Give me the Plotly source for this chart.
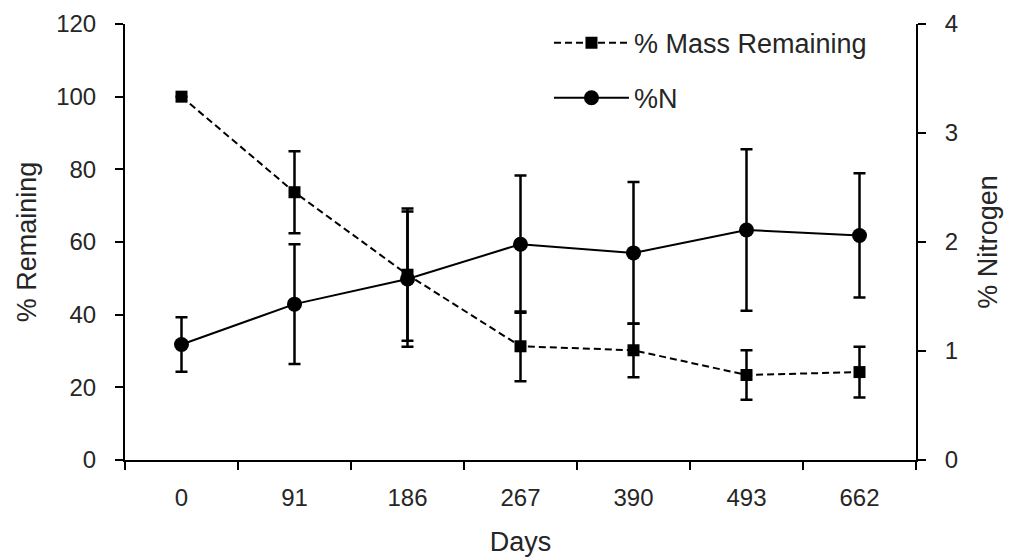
import plotly.graph_objects as go

days = ["0", "91", "186", "267", "390", "493", "662"]
mass_remaining = [100, 73.7, 51.0, 31.3, 30.2, 23.4, 24.2]
mass_err = [0, 11.3, 18.2, 9.6, 7.4, 6.8, 7.0]
nitrogen = [1.06, 1.43, 1.66, 1.98, 1.90, 2.11, 2.06]
nitrogen_err = [0.25, 0.55, 0.62, 0.63, 0.65, 0.74, 0.57]

FONT = "Liberation Sans"
TXT = "#262626"
fig = go.Figure()
fig.add_trace(go.Scatter(
    x=days, y=mass_remaining, name="% Mass Remaining", yaxis="y",
    mode="lines+markers",
    line=dict(color="black", width=2, dash="7px,4px"),
    marker=dict(symbol="square", size=12, color="black"),
    error_y=dict(type="data", array=mass_err, visible=True, color="black", thickness=2.5, width=6),
    legendgroup="a",
))
fig.add_trace(go.Scatter(
    x=days, y=nitrogen, name="%N", yaxis="y2",
    mode="lines+markers",
    line=dict(color="black", width=2),
    marker=dict(symbol="circle", size=15, color="black"),
    error_y=dict(type="data", array=nitrogen_err, visible=True, color="black", thickness=2.5, width=6),
    legendgroup="b",
))

axis_common = dict(
    showline=True, linecolor="black", linewidth=2,
    ticks="outside", ticklen=8, tickwidth=2, tickcolor="black",
    showgrid=False, zeroline=False, automargin=False,
    tickfont=dict(size=24, color=TXT),
)

fig.update_layout(
    width=1020, height=557,
    margin=dict(l=117, r=112, t=15, b=105),
    plot_bgcolor="white", paper_bgcolor="white",
    font=dict(family=FONT, color=TXT, size=24),
    xaxis=dict(
        type="category", range=[-0.5, 6.5], tickson="boundaries",
        ticklabelstandoff=15,
        title=dict(text="Days", font=dict(size=27, color=TXT), standoff=22),
        **axis_common,
    ),
    yaxis=dict(
        range=[0, 120], dtick=20, ticklabelstandoff=14,
        title=dict(text="% Remaining", font=dict(size=27, color=TXT), standoff=12),
        **axis_common,
    ),
    yaxis2=dict(
        range=[0, 4], dtick=1, overlaying="y", side="right", ticklabelstandoff=14,
        title=dict(text="% Nitrogen", font=dict(size=27, color=TXT), standoff=21),
        **axis_common,
    ),
    legend=dict(
        x=0.536, y=1.01, xanchor="left", yanchor="top",
        font=dict(size=27, color=TXT), traceorder="grouped", tracegroupgap=17,
        itemwidth=75, bgcolor="rgba(0,0,0,0)",
    ),
    showlegend=True,
)

fig.write_html("out.html")
